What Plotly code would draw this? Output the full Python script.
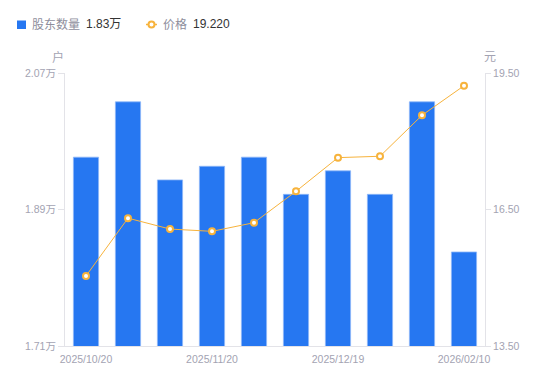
import plotly.graph_objects as go

dates = ["2025/10/20", "2025/10/31", "2025/11/10", "2025/11/20", "2025/11/28",
         "2025/12/10", "2025/12/19", "2025/12/31", "2026/01/20", "2026/02/10"]
holders = [1.959, 2.032, 1.929, 1.947, 1.959, 1.910, 1.941, 1.910, 2.032, 1.834]  # 万户
price = [15.04, 16.31, 16.07, 16.02, 16.21, 16.90, 17.64, 17.67, 18.57, 19.22]
shown_ticks = ["2025/10/20", "2025/11/20", "2025/12/19", "2026/02/10"]
left_ticks = [1.71, 1.89, 2.07]
right_ticks = [13.50, 16.50, 19.50]

BLUE = "#2677f1"
ORANGE = "#f7b33c"
GRAY = "#a3a3b2"
AXIS = "#e3e3e8"

OFF = 8  # default body margin of the html page
W, H = 550 - OFF, 381 - OFF
PL, PR, PT, PB = 65, 485, 73, 346  # plot area in page pixels
ML, MT = PL - OFF, PT - OFF
MR = W - (PR - OFF)
MB = H - (PB - OFF)
PW, PH = PR - PL, PB - PT

def px(x):
    return (x - PL) / PW

def py(y):
    return (PB - y) / PH

fig = go.Figure()
fig.add_trace(go.Bar(x=dates, y=holders, width=0.6, marker=dict(color=BLUE, line=dict(color="#8fb8f7", width=0.8)),
                     name="股东数量", yaxis="y", hoverinfo="skip"))
fig.add_trace(go.Scatter(x=dates, y=price, mode="lines+markers", name="价格", yaxis="y2",
                         line=dict(color=ORANGE, width=1),
                         marker=dict(symbol="circle", size=6, color="white", line=dict(color=ORANGE, width=2)),
                         hoverinfo="skip"))

font_fam = "'Liberation Sans', Arial, 'Noto Sans CJK SC', sans-serif"
TF = dict(size=10.5, color=GRAY, family=font_fam)

fig.update_layout(
    width=W, height=H,
    margin=dict(l=ML, r=MR, t=MT, b=MB, pad=0),
    paper_bgcolor="white", plot_bgcolor="white",
    showlegend=False,
    font=dict(family=font_fam, size=10, color=GRAY),
    xaxis=dict(type="category", range=[-0.5, len(dates) - 0.5], tickmode="array",
               tickvals=shown_ticks, ticktext=shown_ticks, showgrid=False,
               showline=True, linecolor=AXIS, linewidth=1, ticks="", zeroline=False,
               tickfont=TF, ticklabelstandoff=3),
    yaxis=dict(range=[left_ticks[0], left_ticks[-1]], tickvals=left_ticks,
               ticktext=[f"{v:.2f}万" for v in left_ticks],
               showgrid=False, zeroline=False,
               showline=True, linecolor=AXIS, linewidth=1, ticks="outside", ticklen=6,
               tickcolor=AXIS, tickfont=TF),
    yaxis2=dict(range=[right_ticks[0], right_ticks[-1]], tickvals=right_ticks,
                ticktext=[f"{v:.2f}" for v in right_ticks], overlaying="y", side="right",
                showgrid=False, zeroline=False, showline=True, linecolor=AXIS, linewidth=1,
                ticks="outside", ticklen=5, tickcolor=AXIS, tickfont=TF),
    bargap=0.4,
)

# axis unit titles
fig.add_annotation(text="户", xref="paper", yref="paper", x=px(58), y=py(57), showarrow=False,
                   font=dict(size=12, color=GRAY), xanchor="center", yanchor="middle")
fig.add_annotation(text="元", xref="paper", yref="paper", x=px(490), y=py(57), showarrow=False,
                   font=dict(size=12, color=GRAY), xanchor="center", yanchor="middle")

# custom legend
LEG_Y = 24.5
fig.add_shape(type="rect", xref="paper", yref="paper", x0=px(17), x1=px(26), y0=py(29), y1=py(20.5),
              fillcolor=BLUE, line=dict(width=0))
fig.add_annotation(text="股东数量", xref="paper", yref="paper", x=px(30), y=py(LEG_Y), showarrow=False,
                   xanchor="left", yanchor="middle", font=dict(size=12, color="#8e8e9c"))
fig.add_annotation(text=f"{holders[-1]:.2f}万", xref="paper", yref="paper", x=px(84), y=py(LEG_Y),
                   showarrow=False, xanchor="left", yanchor="middle", font=dict(size=12, color="#333333"))
fig.add_shape(type="line", xref="paper", yref="paper", x0=px(146), x1=px(157), y0=py(LEG_Y), y1=py(LEG_Y),
              line=dict(color=ORANGE, width=1.5))
fig.add_shape(type="circle", xref="paper", yref="paper", x0=px(148.5), x1=px(154.5), y0=py(27.5), y1=py(21.5),
              fillcolor="white", line=dict(color=ORANGE, width=2))
fig.add_annotation(text="价格", xref="paper", yref="paper", x=px(161), y=py(LEG_Y), showarrow=False,
                   xanchor="left", yanchor="middle", font=dict(size=12, color="#8e8e9c"))
fig.add_annotation(text=f"{price[-1]:.3f}", xref="paper", yref="paper", x=px(191), y=py(LEG_Y),
                   showarrow=False, xanchor="left", yanchor="middle", font=dict(size=12, color="#333333"))

fig.write_html("out.html")
